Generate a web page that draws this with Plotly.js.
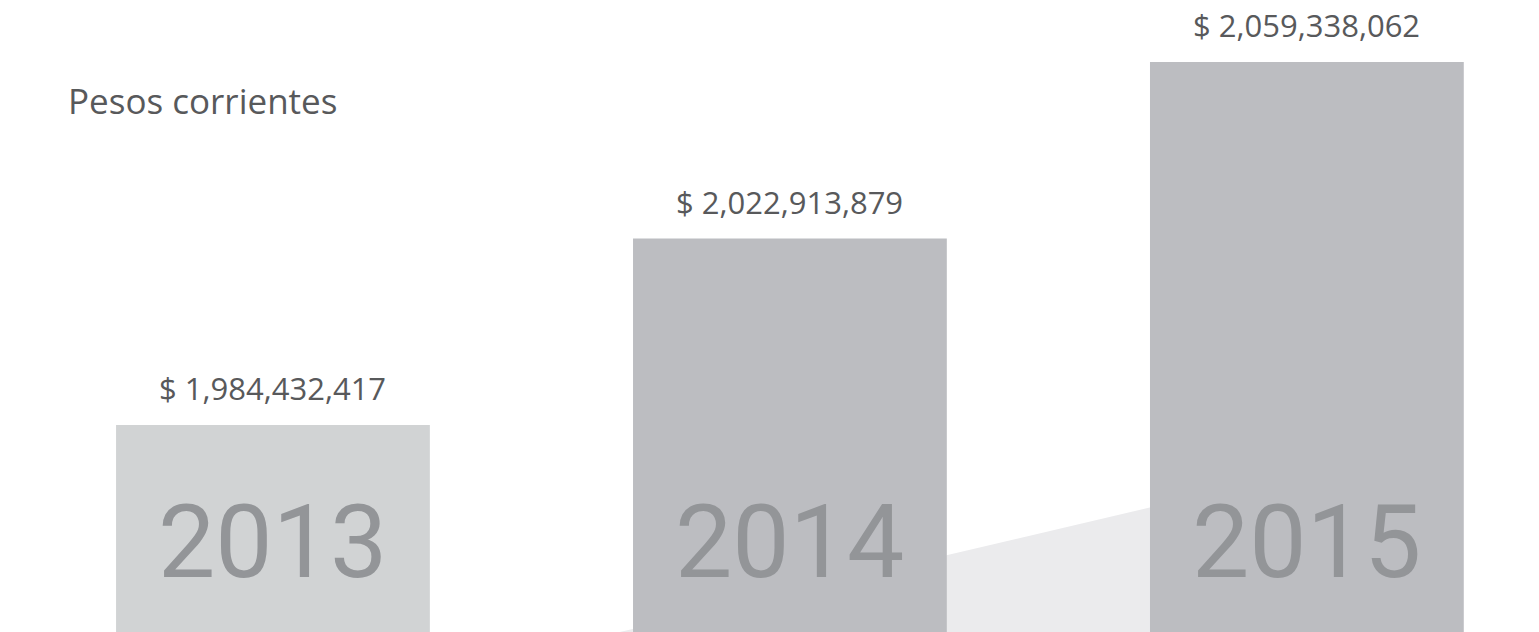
<!DOCTYPE html>
<html>
<head>
<meta charset="utf-8">
<script src="https://cdn.plot.ly/plotly-3.0.1.min.js"></script>
<style>html,body{margin:0;padding:0;background:#fff;}#chart{width:1539px;height:632px;}</style>
</head>
<body>
<div id="chart"></div>
<script>
// Data
const years = ['2013', '2014', '2015'];
const values = [1984432417, 2022913879, 2059338062];
const barColors = ['#d1d3d4', '#bcbdc1', '#bcbdc1'];
const chartLabel = 'Pesos corrientes';
// decorative wedge behind bars (data coords)
const wedgeX = [0.671, 1.692, 1.9, 1.9];
const wedgeY = [1941716000, 1967300000, 1972500000, 1941716000];

const xs = years.map((_, i) => i);
const fmt = v => '$ ' + v.toLocaleString('en-US');

const wedgePath = 'M ' + wedgeX.map((x, i) => x + ',' + wedgeY[i]).join(' L ') + ' Z';

const data = [{
  type: 'bar',
  x: xs,
  y: values,
  marker: {color: barColors, line: {width: 0}},
  hoverinfo: 'none'
}];

const annotations = [];
xs.forEach((x, i) => {
  annotations.push({
    x: x, y: values[i], xref: 'x', yref: 'y',
    text: fmt(values[i]), showarrow: false,
    yanchor: 'bottom', yshift: 14,
    font: {family: 'Open Sans', size: 31, color: '#58595b'}
  });
  annotations.push({
    x: x, y: 0.142, xref: 'x', yref: 'paper',
    text: years[i], showarrow: false,
    yanchor: 'middle',
    font: {family: 'Roboto, sans-serif', weight: 400, size: 102, color: '#939598'}
  });
});
annotations.push({
  x: 66 / 1539, y: 1 - 101 / 632, xref: 'paper', yref: 'paper',
  xanchor: 'left', yanchor: 'middle',
  text: chartLabel, showarrow: false,
  font: {family: 'Open Sans', size: 35, color: '#58595b'}
});

const layout = {
  width: 1539, height: 632,
  margin: {l: 0, r: 0, t: 0, b: 0, pad: 0},
  paper_bgcolor: '#ffffff', plot_bgcolor: '#ffffff',
  showlegend: false,
  bargap: 0.393,
  xaxis: {range: [-0.528, 2.449], visible: false, fixedrange: true},
  yaxis: {range: [1941716000, 2072140000], visible: false, fixedrange: true},
  shapes: [{
    type: 'path', xref: 'x', yref: 'y', layer: 'below',
    path: wedgePath, fillcolor: '#ebebed', line: {width: 0}
  }],
  annotations: annotations
};

Plotly.newPlot('chart', data, layout, {displayModeBar: false, staticPlot: true});
</script>
</body>
</html>
